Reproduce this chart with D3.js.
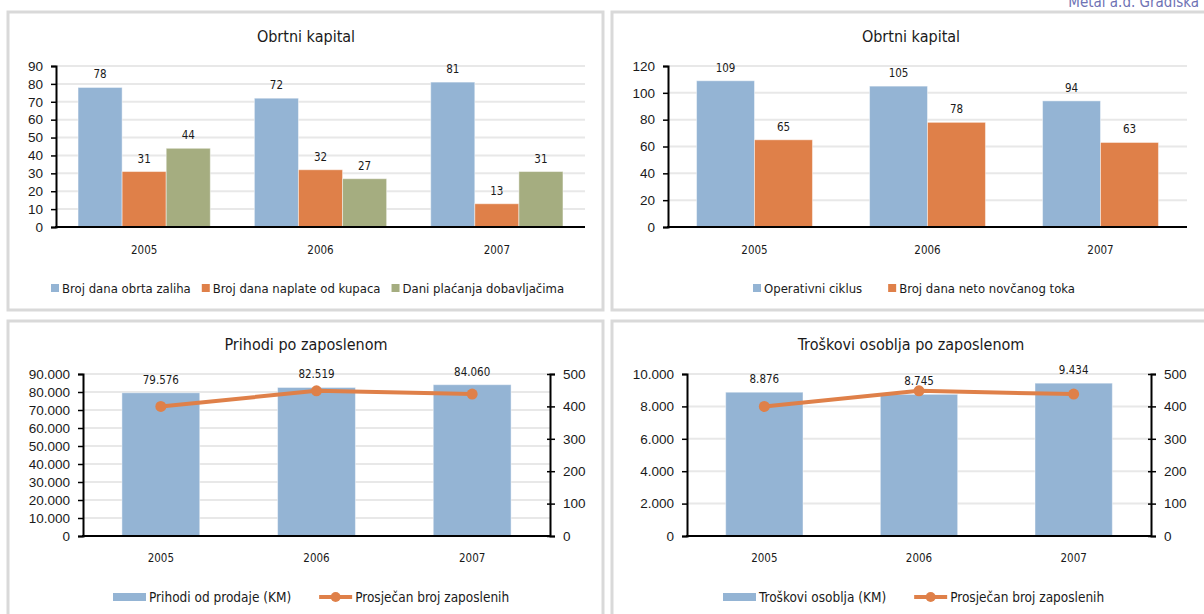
<!DOCTYPE html>
<html>
<head>
<meta charset="utf-8">
<script src="https://cdn.jsdelivr.net/npm/d3@7"></script>
<style>
  body { margin: 0; background: #fff; }
  svg { display: block; font-family: "DejaVu Sans Condensed", "DejaVu Sans", sans-serif; }
</style>
</head>
<body>
<svg id="chart" width="1204" height="614"></svg>
<script>
// Categories
const years = ["2005", "2006", "2007"];

// Obrtni kapital (1)
const zalihaDani = [78, 72, 81];
const kupciDani = [31, 32, 13];
const dobavljaciDani = [44, 27, 31];

// Obrtni kapital (2)
const operativniCiklus = [109, 105, 94];
const netoTokDani = [65, 78, 63];

// Prihodi / troskovi po zaposlenom
const prihodiProdaja = [79576, 82519, 84060];
const troskoviOsoblja = [8876, 8745, 9434];
const brojZaposlenih = [400, 448, 438];

// Tick values
const ticksObrt1 = [0, 10, 20, 30, 40, 50, 60, 70, 80, 90];
const ticksObrt2 = [0, 20, 40, 60, 80, 100, 120];
const ticksPrihodi = [0, 10000, 20000, 30000, 40000, 50000, 60000, 70000, 80000, 90000];
const ticksTroskovi = [0, 2000, 4000, 6000, 8000, 10000];
const ticksZaposleni = [0, 100, 200, 300, 400, 500];

const BLUE = "#94b4d4", ORANGE = "#df8049", GREEN = "#a5ad80";
const GRID = "#e8e8e8", TEXT = "#1a1a1a";

const locale = d3.formatLocale({ decimal: ",", thousands: ".", grouping: [3], currency: ["", ""] });
const fmt = locale.format(",d");

const svg = d3.select("#chart");

// header text, cut at the top like in the source page
svg.append("text")
    .attr("x", 1199).attr("y", 7)
    .attr("text-anchor", "end")
    .attr("font-size", 15)
    .attr("fill", "#6e72b4")
    .text("Metal a.d. Gradiška");

// panel frames
function panel(x, y, w, h) {
    svg.append("rect")
        .attr("x", x).attr("y", y).attr("width", w).attr("height", h)
        .attr("fill", "none").attr("stroke", "#d9d9d9").attr("stroke-width", 3);
}
panel(8, 12, 595, 298);
panel(612, 12, 620, 298);
panel(8, 321, 595, 300);
panel(612, 321, 620, 300);

function title(g, x, y, txt) {
    g.append("text").attr("x", x).attr("y", y)
        .attr("text-anchor", "middle").attr("font-size", 16).attr("fill", TEXT)
        .text(txt);
}

function gridAndLeftAxis(g, y, ticks, x0, x1, tickFmt) {
    // gridlines
    g.selectAll(".grid").data(ticks.slice(1)).enter().append("line")
        .attr("x1", x0).attr("x2", x1)
        .attr("y1", d => y(d)).attr("y2", d => y(d))
        .attr("stroke", GRID).attr("stroke-width", 2);

    const ax = g.append("g").attr("transform", "translate(" + x0 + ",0)")
        .call(d3.axisLeft(y).tickValues(ticks).tickSize(5).tickPadding(8).tickFormat(tickFmt));
    ax.select(".domain").attr("stroke", "#000").attr("stroke-width", 2);
    ax.selectAll(".tick line").attr("stroke", "#000").attr("stroke-width", 1.5);
    ax.selectAll("text").attr("font-size", 13.5).attr("fill", TEXT).attr("font-family", null);
}

function categoryAxis(g, x, yBase, x0, x1, labelY) {
    g.append("line").attr("x1", x0 - 1).attr("x2", x1).attr("y1", yBase).attr("y2", yBase)
        .attr("stroke", "#000").attr("stroke-width", 2);
    g.selectAll(".cat").data(years).enter().append("text")
        .attr("x", d => x(d) + x.bandwidth() / 2)
        .attr("y", labelY)
        .attr("text-anchor", "middle").attr("font-size", 11.5).attr("fill", TEXT)
        .text(d => d);
}

// grouped bar chart
function groupedBars(cfg) {
    const g = svg.append("g");
    title(g, cfg.cx, 42, cfg.title);
    const y = d3.scaleLinear().domain([0, cfg.max]).range([227, 66]);
    const x = d3.scaleBand().domain(years).range([cfg.x0, cfg.x1])
        .paddingInner(cfg.pad).paddingOuter(cfg.pad / 2);
    const names = cfg.series.map(s => s.name);
    const xs = d3.scaleBand().domain(names).range([0, x.bandwidth()]);

    gridAndLeftAxis(g, y, cfg.ticks, cfg.x0, cfg.x1, d3.format("d"));

    cfg.series.forEach(s => {
        const data = years.map((yr, i) => ({ yr: yr, v: s.values[i] }));
        g.selectAll(".b" + s.name).data(data).enter().append("rect")
            .attr("x", d => x(d.yr) + xs(s.name))
            .attr("y", d => y(d.v))
            .attr("width", xs.bandwidth())
            .attr("height", d => y(0) - y(d.v))
            .attr("fill", s.color)
            .attr("stroke", "rgba(255,255,255,0.45)").attr("stroke-width", 1);
        g.selectAll(".l" + s.name).data(data).enter().append("text")
            .attr("x", d => x(d.yr) + xs(s.name) + xs.bandwidth() / 2)
            .attr("y", d => y(d.v) - 9)
            .attr("text-anchor", "middle").attr("font-size", 11.5).attr("fill", TEXT)
            .text(d => d.v);
    });

    categoryAxis(g, x, 227, cfg.x0, cfg.x1, 254);

    // legend
    const lg = g.append("g");
    let lx = cfg.legendX;
    cfg.series.forEach((s, i) => {
        lg.append("rect").attr("x", lx).attr("y", 284).attr("width", 8).attr("height", 8).attr("fill", s.color);
        const t = lg.append("text").attr("x", lx + 11).attr("y", 293)
            .attr("font-size", 13).attr("fill", TEXT).text(s.name);
        lx += 11 + t.node().getComputedTextLength() + cfg.legendGap;
    });
}

// bar + line with secondary axis
function comboChart(cfg) {
    const g = svg.append("g");
    title(g, cfg.cx, 350, cfg.title);
    const yTop = 374, yBot = 536;
    const y = d3.scaleLinear().domain([0, cfg.max]).range([yBot, yTop]);
    const y2 = d3.scaleLinear().domain([0, 500]).range([yBot, yTop]);
    const x = d3.scaleBand().domain(years).range([cfg.x0, cfg.x1]).paddingInner(0.5).paddingOuter(0.25);

    gridAndLeftAxis(g, y, cfg.ticks, cfg.x0, cfg.x1, fmt);

    const data = years.map((yr, i) => ({ yr: yr, v: cfg.bars[i], n: brojZaposlenih[i] }));
    g.selectAll(".bar").data(data).enter().append("rect")
        .attr("x", d => x(d.yr)).attr("y", d => y(d.v))
        .attr("width", x.bandwidth()).attr("height", d => y(0) - y(d.v))
        .attr("fill", BLUE).attr("stroke", "rgba(255,255,255,0.45)").attr("stroke-width", 1);
    g.selectAll(".vlab").data(data).enter().append("text")
        .attr("x", d => x(d.yr) + x.bandwidth() / 2)
        .attr("y", d => y(d.v) - 9)
        .attr("text-anchor", "middle").attr("font-size", 11.5).attr("fill", TEXT)
        .text(d => fmt(d.v));

    // right axis
    const ax2 = g.append("g").attr("transform", "translate(" + cfg.x1 + ",0)")
        .call(d3.axisRight(y2).tickValues(ticksZaposleni).tickSize(5).tickPadding(8));
    ax2.select(".domain").attr("stroke", "#000").attr("stroke-width", 2);
    ax2.selectAll(".tick line").attr("x1", -3).attr("stroke", "#000").attr("stroke-width", 1.5);
    ax2.selectAll("text").attr("font-size", 13.5).attr("fill", TEXT).attr("font-family", null);

    categoryAxis(g, x, yBot, cfg.x0, cfg.x1, 562);

    // line
    const cx = d => x(d.yr) + x.bandwidth() / 2;
    g.append("path").datum(data)
        .attr("d", d3.line().x(cx).y(d => y2(d.n)))
        .attr("fill", "none").attr("stroke", ORANGE).attr("stroke-width", 4);
    g.selectAll(".dot").data(data).enter().append("circle")
        .attr("cx", cx).attr("cy", d => y2(d.n)).attr("r", 5.5).attr("fill", ORANGE);

    // legend
    let lx = cfg.legendX;
    g.append("rect").attr("x", lx).attr("y", 593).attr("width", 33).attr("height", 8).attr("fill", BLUE);
    const t1 = g.append("text").attr("x", lx + 36).attr("y", 602)
        .attr("font-size", 13.5).attr("fill", TEXT).text(cfg.barName);
    lx += 36 + t1.node().getComputedTextLength() + 28;
    g.append("line").attr("x1", lx).attr("x2", lx + 33).attr("y1", 597).attr("y2", 597)
        .attr("stroke", ORANGE).attr("stroke-width", 4);
    g.append("circle").attr("cx", lx + 16.5).attr("cy", 597).attr("r", 5).attr("fill", ORANGE);
    g.append("text").attr("x", lx + 36).attr("y", 602)
        .attr("font-size", 13.5).attr("fill", TEXT).text("Prosječan broj zaposlenih");
}

groupedBars({
    title: "Obrtni kapital", cx: 306, x0: 56, x1: 585, max: 90, ticks: ticksObrt1, pad: 0.25,
    legendX: 51, legendGap: 11,
    series: [
        { name: "Broj dana obrta zaliha", values: zalihaDani, color: BLUE },
        { name: "Broj dana naplate od kupaca", values: kupciDani, color: ORANGE },
        { name: "Dani plaćanja dobavljačima", values: dobavljaciDani, color: GREEN }
    ]
});

groupedBars({
    title: "Obrtni kapital", cx: 911, x0: 668, x1: 1187, max: 120, ticks: ticksObrt2, pad: 0.33,
    legendX: 753, legendGap: 26,
    series: [
        { name: "Operativni ciklus", values: operativniCiklus, color: BLUE },
        { name: "Broj dana neto novčanog toka", values: netoTokDani, color: ORANGE }
    ]
});

comboChart({
    title: "Prihodi po zaposlenom", cx: 306, x0: 83, x1: 550, max: 90000, ticks: ticksPrihodi,
    bars: prihodiProdaja, barName: "Prihodi od prodaje (KM)", legendX: 113
});

comboChart({
    title: "Troškovi osoblja po zaposlenom", cx: 911, x0: 687, x1: 1151, max: 10000, ticks: ticksTroskovi,
    bars: troskoviOsoblja, barName: "Troškovi osoblja (KM)", legendX: 723
});
</script>
</body>
</html>
